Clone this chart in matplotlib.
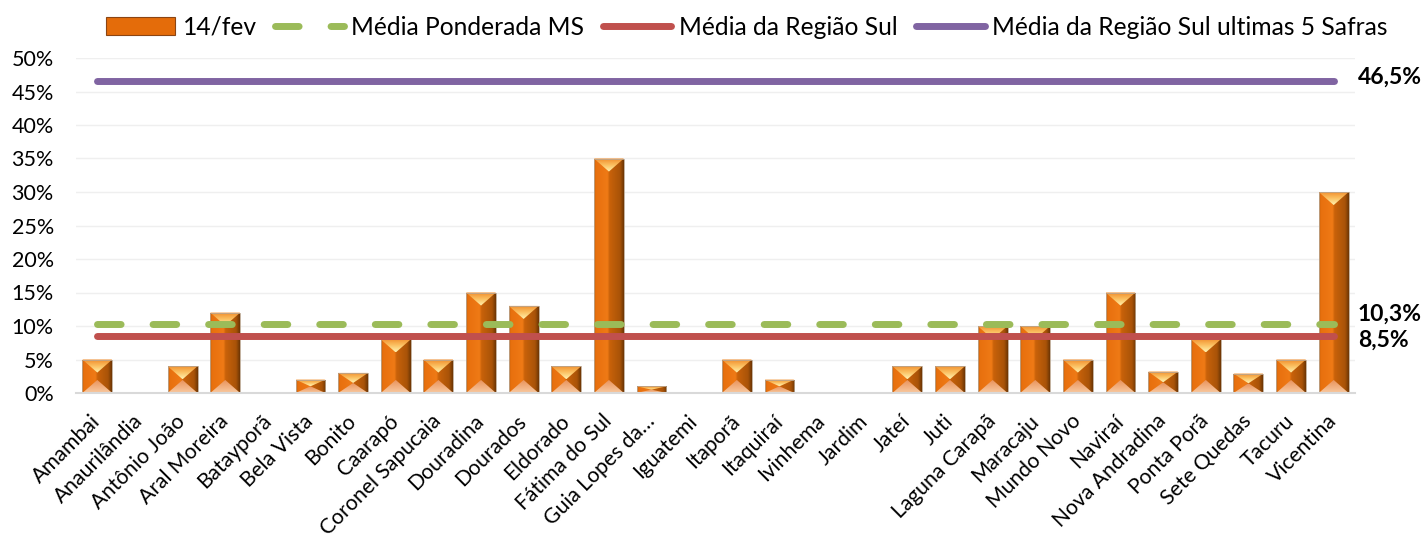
import numpy as np
import matplotlib
matplotlib.use("Agg")
import matplotlib.pyplot as plt
from matplotlib.patches import Polygon, Rectangle, Patch
from matplotlib.lines import Line2D
from matplotlib.colors import LinearSegmentedColormap
from matplotlib.ticker import PercentFormatter
import matplotlib.transforms as mtransforms

plt.rcParams['font.family'] = ['Lato', 'DejaVu Sans']

municipios = ["Amambai", "Anaurilândia", "Antônio João", "Aral Moreira", "Batayporã",
              "Bela Vista", "Bonito", "Caarapó", "Coronel Sapucaia", "Douradina",
              "Dourados", "Eldorado", "Fátima do Sul", "Guia Lopes da…", "Iguatemi",
              "Itaporã", "Itaquiraí", "Ivinhema", "Jardim", "Jateí", "Juti",
              "Laguna Carapã", "Maracaju", "Mundo Novo", "Naviraí", "Nova Andradina",
              "Ponta Porã", "Sete Quedas", "Tacuru", "Vicentina"]
colheita_14fev = [0.05, 0.0, 0.04, 0.12, 0.0, 0.02, 0.03, 0.08, 0.05, 0.15,
                  0.13, 0.04, 0.35, 0.01, 0.0, 0.05, 0.02, 0.0, 0.0, 0.04, 0.04,
                  0.10, 0.10, 0.05, 0.15, 0.032, 0.08, 0.029, 0.05, 0.30]
media_ponderada_ms = 0.103
media_regiao_sul = 0.085
media_sul_5_safras = 0.465
rotulo_ms = "10,3%"
rotulo_sul = "8,5%"
rotulo_5safras = "46,5%"

W, H = 1427, 540
fig = plt.figure(figsize=(W / 100, H / 100), dpi=100)
ax = fig.add_axes([76 / W, 1 - 393 / H, (1355 - 76) / W, (393 - 58) / H])

x = np.arange(len(municipios))
bw = 0.7
bars = ax.bar(x, colheita_14fev, width=bw, color='#E46C0A', edgecolor='none', zorder=2)

body_cmap = LinearSegmentedColormap.from_list(
    'body', [(0.0, '#C8600A'), (0.06, '#E8700E'), (0.45, '#EF7A16'),
             (0.52, '#C9620A'), (0.88, '#A85308'), (1.0, '#6E3604')])
top_cmap = LinearSegmentedColormap.from_list(
    'top', [(0.0, '#F08A2A'), (0.5, '#FBC060'), (1.0, '#FFF2B0')])
bot_cmap = LinearSegmentedColormap.from_list(
    'bot', [(0.0, '#F9C9A0'), (1.0, '#E89058')])

grad_h = np.linspace(0, 1, 64).reshape(1, -1)
grad_v = np.linspace(0, 1, 64).reshape(-1, 1)
tri_h = 0.0195
for rect in bars:
    h = rect.get_height()
    if h <= 0:
        continue
    l = rect.get_x()
    r = l + rect.get_width()
    c = (l + r) / 2
    clip = Rectangle((l, 0), r - l, h, transform=ax.transData)
    im = ax.imshow(grad_h, cmap=body_cmap, extent=[l, r, 0, h], aspect='auto',
                   origin='lower', zorder=2.1, interpolation='bilinear')
    im.set_clip_path(clip)
    t = min(tri_h, h / 2)
    ptop = Polygon([(l, h), (r, h), (c, h - t)], closed=True, transform=ax.transData)
    im2 = ax.imshow(grad_v[::-1], cmap=top_cmap, extent=[l, r, h - t, h], aspect='auto',
                    origin='lower', zorder=2.2, interpolation='bilinear')
    im2.set_clip_path(ptop)
    pbot = Polygon([(l, 0), (r, 0), (c, t)], closed=True, transform=ax.transData)
    im3 = ax.imshow(grad_v, cmap=bot_cmap, extent=[l, r, 0, t], aspect='auto',
                    origin='lower', zorder=2.2, interpolation='bilinear')
    im3.set_clip_path(pbot)
    ax.add_patch(Rectangle((l, 0), r - l, h, fill=False, edgecolor='#B9A58F',
                           linewidth=0.6, zorder=2.3))

lw = 5.0
dash = (3.4, 4.6)
ax.plot([x[0], x[-1]], [media_sul_5_safras] * 2, color='#8064A2', lw=lw,
        solid_capstyle='round', zorder=3)
ax.plot([x[0], x[-1]], [media_regiao_sul] * 2, color='#C0504D', lw=lw,
        solid_capstyle='round', zorder=3)
ax.plot([x[0], x[-1]], [media_ponderada_ms] * 2, color='#9BBB59', lw=lw,
        dashes=dash, dash_capstyle='round', zorder=3.1)

ax.set_xlim(-0.5, len(municipios) - 0.5)
ax.set_ylim(0, 0.5)
ax.set_yticks(np.arange(0, 0.51, 0.05))
ax.yaxis.set_major_formatter(PercentFormatter(1.0, decimals=0))
ax.grid(axis='y', color='#EFEFEF', linewidth=1.0, zorder=0)
ax.set_axisbelow(True)
for s in ['top', 'right', 'left']:
    ax.spines[s].set_visible(False)
ax.spines['bottom'].set_color('#D9D9D9')
ax.spines['bottom'].set_linewidth(1.5)
ax.tick_params(axis='both', length=0, labelsize=15.5, colors='#000000')
ax.tick_params(axis='y', pad=16)
ax.set_xticks(x)
ax.set_xticklabels(municipios, rotation=45, ha='right', va='center',
                   rotation_mode='anchor', fontsize=15.2)
ax.tick_params(axis='x', pad=18)

trans = mtransforms.blended_transform_factory(ax.transAxes, ax.transData)
for val, lab, dy in [(media_sul_5_safras, rotulo_5safras, 3),
                     (media_ponderada_ms, rotulo_ms, 7),
                     (media_regiao_sul, rotulo_sul, -3)]:
    ax.annotate(lab, xy=(1.0, val), xycoords=trans, xytext=(2, dy),
                textcoords='offset points', ha='left', va='center',
                fontsize=16.5, fontweight='bold', color='#000000')

handles = [Patch(facecolor='#E46C0A', edgecolor='#8B4513', linewidth=0.8),
           Line2D([], [], color='#9BBB59', lw=lw, dashes=dash, dash_capstyle='round'),
           Line2D([], [], color='#C0504D', lw=lw, solid_capstyle='round'),
           Line2D([], [], color='#8064A2', lw=lw, solid_capstyle='round')]
labels = ["14/fev", "Média Ponderada MS", "Média da Região Sul",
          "Média da Região Sul ultimas 5 Safras"]
fig.legend(handles, labels, loc='center', bbox_to_anchor=(747 / W, 1 - 27 / H),
           ncol=4, frameon=False, fontsize=17.7, handlelength=2.8,
           handletextpad=0.3, columnspacing=0.75, handleheight=0.7)

fig.savefig('out.png', dpi=100)
